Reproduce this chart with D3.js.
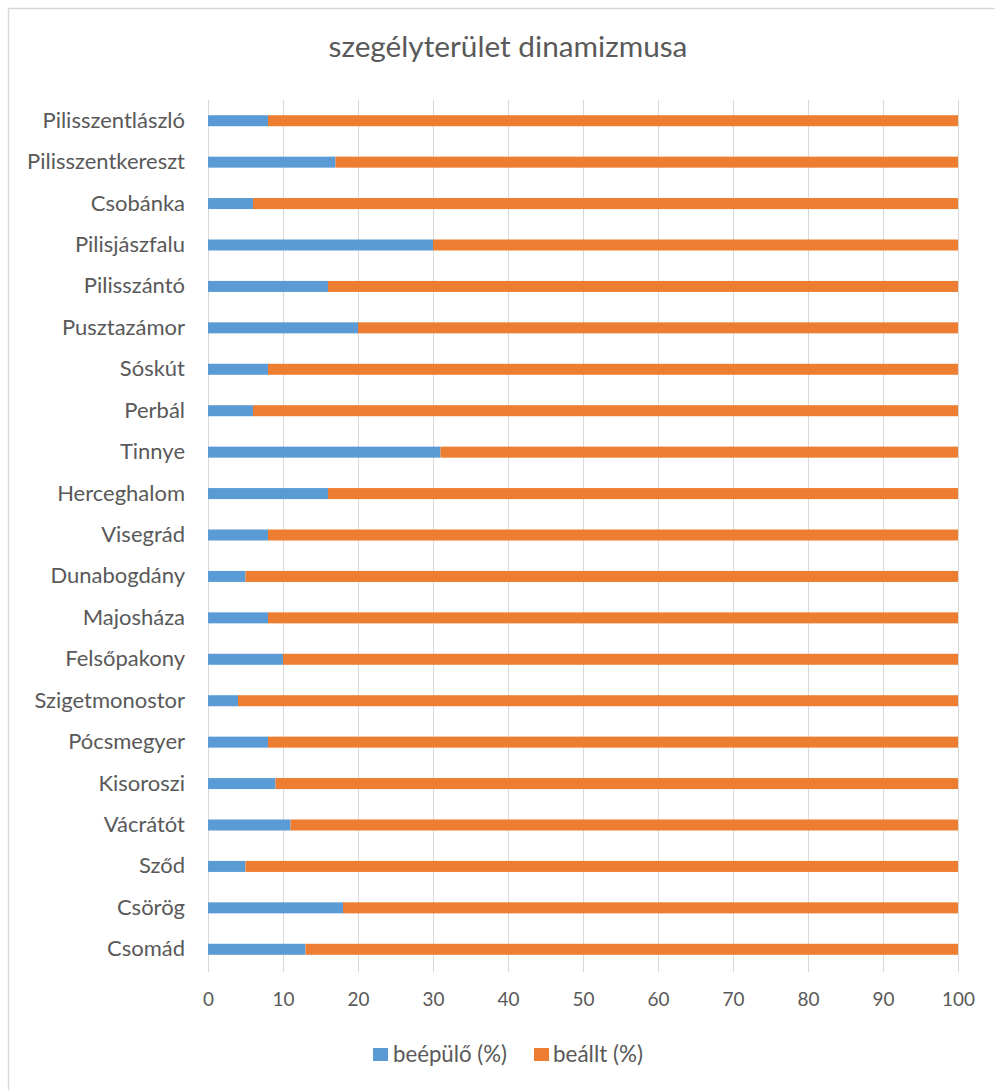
<!DOCTYPE html>
<html>
<head>
<meta charset="utf-8">
<script src="https://cdn.jsdelivr.net/npm/d3@7"></script>
<style>
  html, body { margin: 0; padding: 0; background: #fff; }
  svg { display: block; }
  text { font-family: Lato, "Open Sans", sans-serif; fill: #595959; }
</style>
</head>
<body>
<svg id="chart" width="995" height="1090"></svg>
<script>
// ---- data ----
const title = "szegélyterület dinamizmusa";
const categories = [
  "Pilisszentlászló", "Pilisszentkereszt", "Csobánka", "Pilisjászfalu", "Pilisszántó",
  "Pusztazámor", "Sóskút", "Perbál", "Tinnye", "Herceghalom", "Visegrád",
  "Dunabogdány", "Majosháza", "Felsőpakony", "Szigetmonostor", "Pócsmegyer",
  "Kisoroszi", "Vácrátót", "Sződ", "Csörög", "Csomád"
];
const beepulo = [8, 17, 6, 30, 16, 20, 8, 6, 31, 16, 8, 5, 8, 10, 4, 8, 9, 11, 5, 18, 13];
const beallt  = [92, 83, 94, 70, 84, 80, 92, 94, 69, 84, 92, 95, 92, 90, 96, 92, 91, 89, 95, 82, 87];
const seriesNames = ["beépülő (%)", "beállt (%)"];
const xTicks = [0, 10, 20, 30, 40, 50, 60, 70, 80, 90, 100];

// ---- layout ----
const colors = ["#5B9BD5", "#ED7D31"];
const svg = d3.select("#chart");
const W = 995, H = 1090;
const plot = { left: 208, right: 958, top: 100, bottom: 970 };

// helper: fit font size so text reaches target width
function fitSize(sel, target) {
  const node = sel.node();
  const base = 20;
  sel.style("font-size", base + "px");
  const w = node.getComputedTextLength();
  const s = base * target / w;
  sel.style("font-size", s + "px");
  return s;
}

// border
svg.append("rect")
  .attr("x", 8.5).attr("y", 8.5)
  .attr("width", W + 20).attr("height", H + 20)
  .attr("fill", "none").attr("stroke", "#D9D9D9").attr("stroke-width", 1.5);

// title
const t = svg.append("text")
  .attr("x", 508).attr("y", 57)
  .attr("text-anchor", "middle")
  .text(title);
fitSize(t, 359);

const x = d3.scaleLinear().domain([0, 100]).range([plot.left, plot.right]);
const pad = 1 - 11 / ((plot.bottom - plot.top) / categories.length);
const y = d3.scaleBand().domain(categories).range([plot.top, plot.bottom])
  .paddingInner(pad).paddingOuter(pad / 2);

// gridlines
svg.append("g").selectAll("line").data(xTicks).join("line")
  .attr("x1", d => Math.round(x(d)) + 0.5).attr("x2", d => Math.round(x(d)) + 0.5)
  .attr("y1", plot.top).attr("y2", plot.bottom + 2)
  .attr("stroke", "#D9D9D9").attr("stroke-width", 1);

// stacked bars
const rows = categories.map((c, i) => ({ cat: c, a: beepulo[i], b: beallt[i] }));
const stack = d3.stack().keys(["a", "b"])(rows);
svg.append("g").selectAll("g").data(stack).join("g")
  .attr("fill", (d, i) => colors[i])
  .selectAll("rect").data(d => d).join("rect")
  .attr("x", d => x(d[0]))
  .attr("width", d => x(d[1]) - x(d[0]))
  .attr("y", d => y(d.data.cat))
  .attr("height", y.bandwidth());

// category axis labels
const catSize = (() => {
  const tmp = svg.append("text").text("Pilisszentkereszt");
  const s = fitSize(tmp, 158);
  tmp.remove();
  return s;
})();
const yAxis = svg.append("g")
  .attr("transform", `translate(${plot.left},0)`)
  .call(d3.axisLeft(y).tickSize(0).tickPadding(23));
yAxis.select(".domain").remove();
yAxis.selectAll("text")
  .style("font-size", catSize + "px")
  .style("font-family", "Lato, 'Open Sans', sans-serif")
  .attr("fill", "#595959");

// value axis labels
const tickSize = (() => {
  const tmp = svg.append("text").text("100");
  const s = fitSize(tmp, 33);
  tmp.remove();
  return s;
})();
const xAxis = svg.append("g")
  .attr("transform", `translate(0,${plot.bottom})`)
  .call(d3.axisBottom(x).tickValues(xTicks).tickSize(0).tickPadding(23));
xAxis.select(".domain").remove();
xAxis.selectAll("text")
  .style("font-size", tickSize + "px")
  .style("font-family", "Lato, 'Open Sans', sans-serif")
  .attr("fill", "#595959");

// legend
const legendItems = [
  { name: seriesNames[0], color: colors[0], sx: 373, tx: 393, w: 114 },
  { name: seriesNames[1], color: colors[1], sx: 534, tx: 553, w: 90 }
];
const lg = svg.append("g");
legendItems.forEach(it => {
  lg.append("rect").attr("x", it.sx).attr("y", 1048).attr("width", 15).attr("height", 13)
    .attr("fill", it.color);
  const tx = lg.append("text").attr("x", it.tx).attr("y", 1062).text(it.name);
  fitSize(tx, it.w);
});
</script>
</body>
</html>
